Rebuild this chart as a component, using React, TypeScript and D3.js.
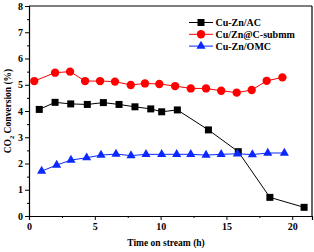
import React, { useRef, useEffect } from 'react';
import * as d3 from 'd3';

// time on stream (h) and CO2 conversion (%) per catalyst
const acTime = [0.78, 1.98, 3.17, 4.43, 5.65, 6.84, 8.05, 9.25, 10.08, 11.27, 13.63, 15.9, 18.3, 20.9];
const acConv = [4.06, 4.33, 4.27, 4.25, 4.32, 4.25, 4.16, 4.08, 3.97, 4.04, 3.28, 2.45, 0.71, 0.33];

const submmTime = [0.4, 1.98, 3.12, 4.26, 5.4, 6.53, 7.73, 8.81, 9.9, 11.1, 12.29, 13.45, 14.6, 15.78, 16.92, 18.06, 19.25];
const submmConv = [5.14, 5.46, 5.5, 5.14, 5.14, 5.12, 4.99, 5.05, 5.03, 4.95, 4.86, 4.86, 4.77, 4.7, 4.8, 5.15, 5.28];

const omcTime = [0.96, 2.1, 3.19, 4.38, 5.47, 6.61, 7.75, 8.89, 10.08, 11.22, 12.29, 13.45, 14.6, 15.83, 16.97, 18.14, 19.4];
const omcConv = [1.71, 1.94, 2.13, 2.22, 2.32, 2.36, 2.3, 2.35, 2.35, 2.35, 2.35, 2.32, 2.35, 2.37, 2.34, 2.4, 2.4];

const seriesNames = ['Cu-Zn/AC', 'Cu/Zn@C-submm', 'Cu-Zn/OMC'];
const xTicks = [0, 5, 10, 15, 20];
const yTicks = [0, 1, 2, 3, 4, 5, 6, 7, 8];

const FONT = '"Liberation Serif", "Times New Roman", serif';

const App: React.FC = () => {
  const svgRef = useRef<SVGSVGElement>(null);
  const width = 314;
  const height = 252;

  useEffect(() => {
    if (!svgRef.current) return;
    const svg = d3.select(svgRef.current);
    svg.selectAll('*').remove();

    const left = 29, right = 312, top = 6, bottom = 216;

    const x = d3.scaleLinear().domain([0, 21.5]).range([left, right]);
    const y = d3.scaleLinear().domain([0, 8]).range([bottom, top]);

    const series = [
      { name: seriesNames[0], t: acTime, v: acConv, color: '#000000', symbol: d3.symbolSquare, size: 49 },
      { name: seriesNames[1], t: submmTime, v: submmConv, color: '#ff0000', symbol: d3.symbolCircle, size: 55 },
      { name: seriesNames[2], t: omcTime, v: omcConv, color: '#0a28ff', symbol: d3.symbolTriangle, size: 36 },
    ];

    // minor ticks
    const xMinor = d3.range(2.5, 21.5, 5);
    const yMinor = d3.range(0.5, 8, 1);

    const xAxis = svg.append('g')
      .attr('transform', `translate(0,${bottom})`)
      .call(d3.axisBottom(x).tickValues(xTicks).tickSize(4).tickPadding(3));
    svg.append('g')
      .attr('transform', `translate(0,${bottom})`)
      .call(d3.axisBottom(x).tickValues(xMinor).tickSize(2).tickFormat(() => ''))
      .select('.domain').remove();

    const yAxis = svg.append('g')
      .attr('transform', `translate(${left},0)`)
      .call(d3.axisLeft(y).tickValues(yTicks).tickSize(4).tickPadding(2));
    svg.append('g')
      .attr('transform', `translate(${left},0)`)
      .call(d3.axisLeft(y).tickValues(yMinor).tickSize(2).tickFormat(() => ''))
      .select('.domain').remove();

    [xAxis, yAxis].forEach(a => {
      a.selectAll('text')
        .attr('font-family', FONT)
        .attr('font-weight', 'bold')
        .attr('font-size', 10)
        .attr('fill', '#000');
    });
    svg.selectAll('.domain').attr('stroke-width', 1.2);

    // frame top and right
    svg.append('line').attr('x1', left).attr('x2', right).attr('y1', top).attr('y2', top)
      .attr('stroke', '#000').attr('stroke-width', 1.2);
    svg.append('line').attr('x1', right).attr('x2', right).attr('y1', top).attr('y2', bottom)
      .attr('stroke', '#000').attr('stroke-width', 1.2);

    // series
    series.forEach(s => {
      const pts = s.t.map((t, i) => [t, s.v[i]] as [number, number]);
      svg.append('path')
        .datum(pts)
        .attr('fill', 'none')
        .attr('stroke', s.color)
        .attr('stroke-width', 1)
        .attr('d', d3.line<[number, number]>().x(d => x(d[0])).y(d => y(d[1])));
      svg.append('g').selectAll('path')
        .data(pts)
        .enter()
        .append('path')
        .attr('transform', d => `translate(${x(d[0])},${y(d[1])})`)
        .attr('d', d3.symbol().type(s.symbol).size(s.size)())
        .attr('fill', s.color);
    });

    // legend
    const lg = svg.append('g');
    series.forEach((s, i) => {
      const ly = 22.5 + i * 11.8;
      lg.append('line').attr('x1', 189).attr('x2', 213).attr('y1', ly).attr('y2', ly)
        .attr('stroke', s.color).attr('stroke-width', 1);
      lg.append('path')
        .attr('transform', `translate(201,${ly})`)
        .attr('d', d3.symbol().type(s.symbol).size(s.size)())
        .attr('fill', s.color);
      lg.append('text')
        .attr('x', 215.5).attr('y', ly + 3.5)
        .attr('font-family', FONT).attr('font-weight', 'bold').attr('font-size', 10)
        .attr('fill', '#000')
        .text(s.name);
    });

    // axis titles
    svg.append('text')
      .attr('x', 166).attr('y', 246)
      .attr('text-anchor', 'middle')
      .attr('font-family', FONT).attr('font-weight', 'bold').attr('font-size', 9.5)
      .attr('fill', '#000')
      .text('Time on stream (h)');

    const yl = svg.append('text')
      .attr('transform', `translate(11,${(top + bottom) / 2}) rotate(-90)`)
      .attr('text-anchor', 'middle')
      .attr('font-family', FONT).attr('font-weight', 'bold').attr('font-size', 9.5)
      .attr('fill', '#000');
    yl.append('tspan').text('CO');
    yl.append('tspan').attr('font-size', 6.5).attr('dy', 2.5).text('2');
    yl.append('tspan').attr('dy', -2.5).text(' Conversion (%)');
  }, []);

  return (
    <svg
      ref={svgRef}
      width={width}
      height={height}
      style={{ position: 'absolute', left: 0, top: 0, background: '#fff' }}
    />
  );
};

export default App;
